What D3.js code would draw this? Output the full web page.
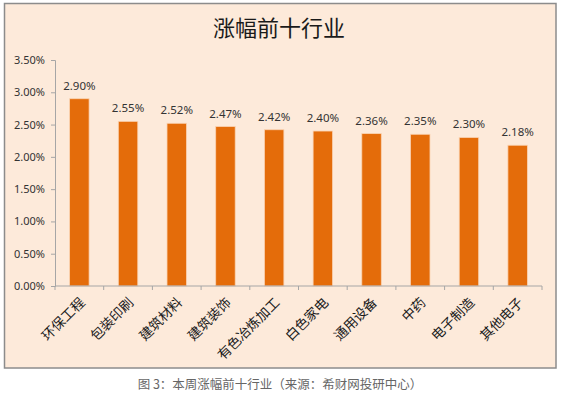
<!DOCTYPE html>
<html>
<head>
<meta charset="utf-8">
<script src="https://cdn.jsdelivr.net/npm/d3@7"></script>
<style>
  body { margin: 0; background: #fff; }
</style>
</head>
<body>
<div id="chart"></div>
<script>
// data
const industries = ["环保工程", "包装印刷", "建筑材料", "建筑装饰", "有色冶炼加工", "白色家电", "通用设备", "中药", "电子制造", "其他电子"]
const gains = [2.90, 2.55, 2.52, 2.47, 2.42, 2.40, 2.36, 2.35, 2.30, 2.18]
const yTicks = [0, 0.5, 1.0, 1.5, 2.0, 2.5, 3.0, 3.5]
const chartTitle = "涨幅前十行业"
const caption = "图 3：本周涨幅前十行业（来源：希财网投研中心）"

// page and plot sizes
const W = 561, H = 393
const margin = { top: 60, right: 19, bottom: 107, left: 55 }
const plotW = W - margin.left - margin.right
const plotH = H - margin.top - margin.bottom

const svg = d3.select("#chart")
  .append("svg")
    .attr("width", W)
    .attr("height", H)

// chart frame
svg.append("rect")
    .attr("x", 4.5)
    .attr("y", 3.5)
    .attr("width", 551.5)
    .attr("height", 364.5)
    .attr("fill", "#FDEADA")
    .attr("stroke", "#8c8c8c")
    .attr("stroke-width", 1.5)

svg.append("text")
    .attr("x", 279)
    .attr("y", 36)
    .attr("text-anchor", "middle")
    .attr("font-family", "'Noto Sans CJK SC', sans-serif")
    .attr("font-size", 22)
    .attr("fill", "#1a1a1a")
    .text(chartTitle)

const g = svg.append("g")
    .attr("transform", `translate(${margin.left},${margin.top})`)

// scales
const x = d3.scaleBand()
    .domain(industries)
    .range([0, plotW])
    .paddingInner(0.6)
    .paddingOuter(0.3)

const y = d3.scaleLinear()
    .domain([0, 3.5])
    .range([plotH, 0])

// y axis
const yAxis = g.append("g")
    .call(d3.axisLeft(y)
        .tickValues(yTicks)
        .tickSize(4)
        .tickPadding(6)
        .tickFormat(d => d.toFixed(2) + "%"))
yAxis.select(".domain").attr("stroke", "#a6a6a6")
yAxis.selectAll(".tick line").attr("stroke", "#a6a6a6")
yAxis.selectAll("text")
    .attr("font-family", "'Noto Sans', sans-serif")
    .attr("font-size", 11)
    .attr("fill", "#333")

// bars
g.selectAll(".bar")
  .data(gains)
  .enter()
  .append("rect")
    .attr("class", "bar")
    .attr("x", (d, i) => x(industries[i]))
    .attr("y", d => y(d))
    .attr("width", x.bandwidth())
    .attr("height", d => plotH - y(d))
    .attr("fill", "#E46C0A")
    .attr("stroke", "#FAD3B3")
    .attr("stroke-width", 0.8)

// value labels
g.selectAll(".val")
  .data(gains)
  .enter()
  .append("text")
    .attr("class", "val")
    .attr("x", (d, i) => x(industries[i]) + x.bandwidth() / 2)
    .attr("y", d => y(d) - 9)
    .attr("text-anchor", "middle")
    .attr("font-family", "'Noto Sans', sans-serif")
    .attr("font-size", 11.5)
    .attr("fill", "#333")
    .text(d => d.toFixed(2) + "%")

// x axis: ticks sit on band edges like the original
const edges = d3.range(industries.length + 1).map(i => i * plotW / industries.length)
const xAxis = g.append("g")
    .attr("transform", `translate(0,${plotH})`)
xAxis.append("line")
    .attr("x1", 0)
    .attr("x2", plotW)
    .attr("stroke", "#a6a6a6")
xAxis.selectAll(".edge")
  .data(edges)
  .enter()
  .append("line")
    .attr("x1", d => d)
    .attr("x2", d => d)
    .attr("y2", 4)
    .attr("stroke", "#a6a6a6")

xAxis.selectAll(".lab")
  .data(industries)
  .enter()
  .append("text")
    .attr("transform", d => `translate(${x(d) + x.bandwidth() / 2 + 3},${14}) rotate(-45)`)
    .attr("text-anchor", "end")
    .attr("dy", "0.35em")
    .attr("font-family", "'Noto Sans CJK SC', sans-serif")
    .attr("font-size", 13.5)
    .attr("fill", "#1a1a1a")
    .text(d => d)

// caption under the frame
svg.append("text")
    .attr("x", 280)
    .attr("y", 389)
    .attr("text-anchor", "middle")
    .attr("font-family", "'Noto Sans CJK SC', sans-serif")
    .attr("font-size", 12.5)
    .attr("fill", "#666")
    .text(caption)
</script>
</body>
</html>
